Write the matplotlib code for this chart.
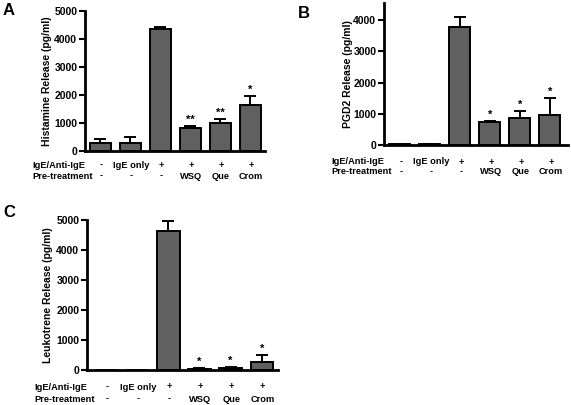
import matplotlib
matplotlib.use("Agg")
import matplotlib.pyplot as plt
import numpy as np

plt.rcParams['font.family'] = ['Liberation Sans', 'DejaVu Sans']
plt.rcParams['font.weight'] = 'bold'

row1_labels = ["-", "IgE only", "+", "+", "+", "+"]
row2_labels = ["-", "-", "-", "WSQ", "Que", "Crom"]
row1_name = "IgE/Anti-IgE"
row2_name = "Pre-treatment"

hist_vals = [290, 270, 4360, 830, 1000, 1630]
hist_err = [130, 230, 80, 70, 160, 340]
hist_stars = ["", "", "", "**", "**", "*"]

pgd2_vals = [20, 30, 3790, 740, 880, 960]
pgd2_err = [0, 0, 300, 40, 220, 550]
pgd2_stars = ["", "", "", "*", "*", "*"]

leuk_vals = [0, 10, 4630, 40, 60, 280]
leuk_err = [0, 0, 330, 20, 30, 230]
leuk_stars = ["", "", "", "*", "*", "*"]

W, H = 571, 405
fig = plt.figure(figsize=(W / 100, H / 100), dpi=100)


def make_ax(left, right, top, bottom):
    return fig.add_axes([left / W, 1 - bottom / H, (right - left) / W, (bottom - top) / H])


def panel(ax, vals, err, stars, ylabel, yticks, ylim, xlim, letter, letter_xy,
          ylab_off, row_offs, bw=0.7):
    x = np.arange(len(vals))
    ax.bar(x, vals, width=bw, color='#606060', edgecolor='black', linewidth=1.4, zorder=2)
    lower = np.zeros(len(vals))
    ax.errorbar(x, vals, yerr=[lower, err], fmt='none', ecolor='black',
                elinewidth=1.4, capsize=4, capthick=1.4, zorder=3)
    for xi, v, e, s in zip(x, vals, err, stars):
        if s:
            ax.annotate(s, xy=(xi, v + e), xytext=(0, 3), textcoords='offset pixels',
                        ha='center', va='baseline', fontsize=8, fontweight='bold')
    ax.set_xlim(*xlim)
    ax.set_ylim(*ylim)
    ax.set_yticks(yticks)
    ax.set_yticklabels([str(t) for t in yticks], fontsize=7.5, fontweight='bold')
    ax.set_xticks([])
    for sp in ['top', 'right']:
        ax.spines[sp].set_visible(False)
    for sp in ['left', 'bottom']:
        ax.spines[sp].set_linewidth(2)
    ax.tick_params(axis='y', length=4, width=1.5, pad=1.5)
    ax.set_ylabel(ylabel, fontsize=7.5, fontweight='bold')
    bbox = ax.get_position()
    ax_w_px = bbox.width * W
    ax.yaxis.set_label_coords(-ylab_off / ax_w_px, 0.5)
    r1, r2 = row_offs
    for xi, a, b in zip(x, row1_labels, row2_labels):
        ax.annotate(a, xy=(xi, 0), xycoords=('data', 'axes fraction'), xytext=(1, -r1),
                    textcoords='offset pixels', ha='center', va='center',
                    fontsize=6.7, fontweight='bold')
        ax.annotate(b, xy=(xi, 0), xycoords=('data', 'axes fraction'), xytext=(1, -r2),
                    textcoords='offset pixels', ha='center', va='center',
                    fontsize=6.7, fontweight='bold')
    ax.annotate(row1_name, xy=(0, 0), xycoords='axes fraction', xytext=(-53, -r1),
                textcoords='offset pixels', ha='left', va='center',
                fontsize=6.7, fontweight='bold')
    ax.annotate(row2_name, xy=(0, 0), xycoords='axes fraction', xytext=(-53, -r2),
                textcoords='offset pixels', ha='left', va='center',
                fontsize=6.7, fontweight='bold')
    fig.text(letter_xy[0] / W, 1 - letter_xy[1] / H, letter, fontsize=12,
             fontweight='bold', ha='left', va='top')


axA = make_ax(85, 265, 11, 151)
panel(axA, hist_vals, hist_err, hist_stars, "Histamine Release (pg/ml)",
      [0, 1000, 2000, 3000, 4000, 5000], (0, 5000), (-0.5, 5.5), "A", (3, 3),
      33, (14, 25))

axB = make_ax(384, 568, 3, 145)
panel(axB, pgd2_vals, pgd2_err, pgd2_stars, "PGD2 Release (pg/ml)",
      [0, 1000, 2000, 3000, 4000], (0, 4550), (-0.53, 5.6), "B", (298, 6),
      31, (17, 27))

axC = make_ax(87, 278, 220, 370)
panel(axC, leuk_vals, leuk_err, leuk_stars, "Leukotrene Release (pg/ml)",
      [0, 1000, 2000, 3000, 4000, 5000], (0, 5000), (-0.61, 5.52), "C", (3, 205),
      34, (17, 29), bw=0.72)

fig.savefig("out.png", dpi=100)
